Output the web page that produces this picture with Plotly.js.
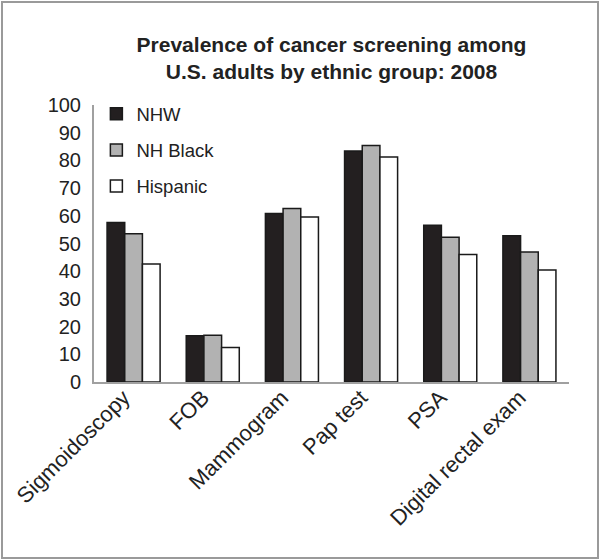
<!DOCTYPE html>
<html>
<head>
<meta charset="utf-8">
<script src="https://cdn.plot.ly/plotly-3.0.1.min.js"></script>
<style>
  html, body { margin: 0; padding: 0; background: #fff; }
  #wrap { position: relative; width: 600px; height: 560px; }
  #chart { position: absolute; left: 0; top: 0; width: 600px; height: 560px; }
  #frame { position: absolute; left: 1px; top: 1px; width: 594px; height: 554px;
           border: 2px solid #9a9a9a; pointer-events: none; }
</style>
</head>
<body>
<div id="wrap">
  <div id="chart"></div>
  <div id="frame"></div>
</div>
<script>
const categories = ["Sigmoidoscopy", "FOB", "Mammogram", "Pap test", "PSA", "Digital rectal exam"];
const seriesNames = ["NHW", "NH Black", "Hispanic"];
const nhw = [57.6, 16.7, 60.8, 83.4, 56.6, 52.8];
const nhBlack = [53.5, 16.9, 62.6, 85.4, 52.3, 46.9];
const hispanic = [42.6, 12.5, 59.6, 81.2, 46.0, 40.4];
const yTicks = [0, 10, 20, 30, 40, 50, 60, 70, 80, 90, 100];

const fills = ["#231f20", "#b2b2b2", "#ffffff"];
const values = [nhw, nhBlack, hispanic];

const traces = values.map((v, i) => ({
  type: "bar",
  name: seriesNames[i],
  x: categories,
  y: v,
  legendgroup: "g" + i,
  marker: { color: fills[i], line: { color: "#1a1a1a", width: 1.5 } },
  hoverinfo: "x+y+name"
}));

const font = "Liberation Sans, Arial, sans-serif";

const layout = {
  width: 600,
  height: 560,
  paper_bgcolor: "#ffffff",
  plot_bgcolor: "#ffffff",
  font: { family: font, color: "#222", size: 18 },
  margin: { l: 94, r: 31, t: 105, b: 178 },
  barmode: "group",
  bargap: 0.33,
  bargroupgap: 0,
  title: {
    text: "<b>Prevalence of cancer screening among<br>U.S. adults by ethnic group: 2008</b>",
    font: { family: font, size: 21, color: "#222" },
    x: 0.5, xref: "paper", xanchor: "center",
    y: 0.908, yref: "container", yanchor: "middle"
  },
  xaxis: {
    type: "category",
    tickangle: -45,
    tickfont: { family: font, size: 22, color: "#222" },
    showline: true, linecolor: "#a0a0a0", linewidth: 2,
    showgrid: false, zeroline: false, ticks: "",
    ticklabelshift: -10,
    ticklabelstandoff: -8
  },
  yaxis: {
    range: [0, 100],
    tickvals: yTicks,
    tickfont: { family: font, size: 20, color: "#222" },
    showline: true, linecolor: "#a0a0a0", linewidth: 2,
    showgrid: false, zeroline: false, ticks: "",
    ticklabelstandoff: 7
  },
  showlegend: true,
  legend: {
    x: 0.005, y: 1.035, xanchor: "left", yanchor: "top",
    font: { family: font, size: 18.5, color: "#222" },
    bgcolor: "rgba(0,0,0,0)",
    traceorder: "grouped",
    tracegroupgap: 9
  }
};

Plotly.newPlot("chart", traces, layout, { displayModeBar: false, staticPlot: true });
</script>
</body>
</html>
